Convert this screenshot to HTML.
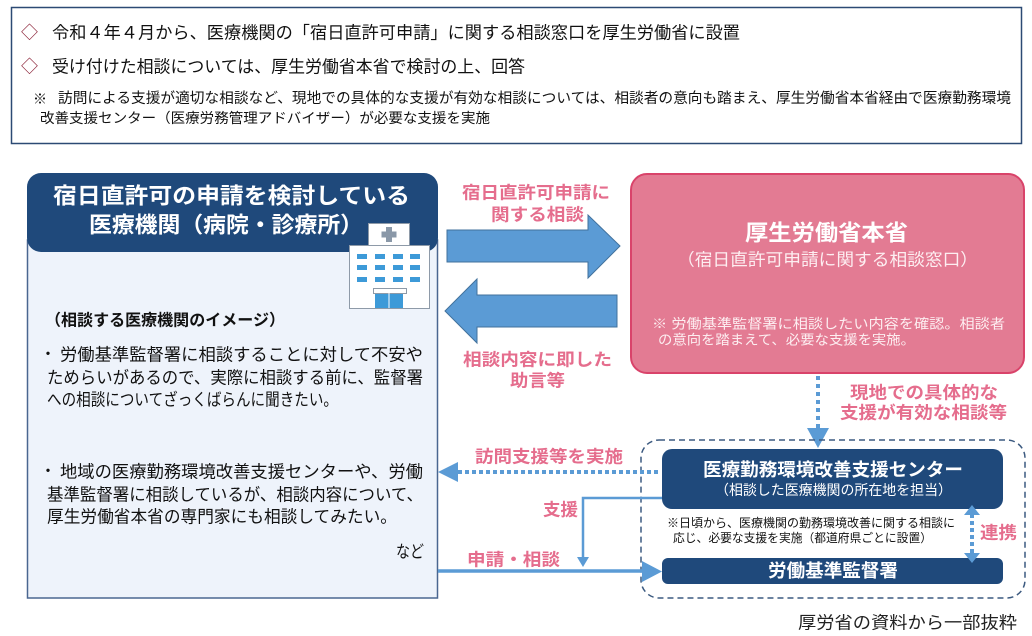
<!DOCTYPE html>
<html><head><meta charset="utf-8">
<style>
html,body{margin:0;padding:0;background:#fff;}
svg{display:block;}
text{font-family:"Liberation Sans","Noto Sans CJK JP",sans-serif;}
.b{font-weight:bold;}
</style></head>
<body>
<svg width="1032" height="636" viewBox="0 0 1032 636" xmlns="http://www.w3.org/2000/svg">
<!-- top box -->
<rect x="11.5" y="7.5" width="1010" height="136" fill="#fff" stroke="#2c4a74" stroke-width="1.5"/>
<g fill="#111" dominant-baseline="central">
<text x="21" y="33" font-size="17" fill="#8a2036">◇</text>
<text x="52" y="33" font-size="17" textLength="688" lengthAdjust="spacingAndGlyphs">令和４年４月から、医療機関の「宿日直許可申請」に関する相談窓口を厚生労働省に設置</text>
<text x="21" y="67" font-size="17" fill="#8a2036">◇</text>
<text x="52" y="67" font-size="17" textLength="473" lengthAdjust="spacingAndGlyphs">受け付けた相談については、厚生労働省本省で検討の上、回答</text>
<text x="33" y="99" font-size="14">※</text>
<text x="58" y="99" font-size="14.5" textLength="953" lengthAdjust="spacingAndGlyphs">訪問による支援が適切な相談など、現地での具体的な支援が有効な相談については、相談者の意向も踏まえ、厚生労働省本省経由で医療勤務環境</text>
<text x="40" y="118" font-size="14" textLength="450" lengthAdjust="spacingAndGlyphs">改善支援センター（医療労務管理アドバイザー）が必要な支援を実施</text>
</g>

<!-- left box -->
<rect x="27.5" y="240" width="410" height="358" fill="#eef3fb" stroke="#4a6690" stroke-width="1.5"/>
<rect x="27" y="173" width="411" height="79" rx="14" fill="#1f497b"/>
<g fill="#fff" dominant-baseline="central" class="b">
<text x="53" y="196" font-size="22" font-weight="bold" textLength="357" lengthAdjust="spacingAndGlyphs">宿日直許可の申請を検討している</text>
<text x="89" y="225" font-size="22" font-weight="bold" textLength="274" lengthAdjust="spacingAndGlyphs">医療機関（病院・診療所）</text>
</g>
<!-- hospital icon -->
<g>
<rect x="368.5" y="223.5" width="41" height="22" fill="#fff" stroke="#8e9aa8" stroke-width="1"/>
<rect x="386" y="227" width="6" height="15" fill="#8a98a8"/>
<rect x="381.5" y="231.5" width="15" height="6" fill="#8a98a8"/>
<rect x="349.5" y="245.5" width="80" height="63" fill="#fff" stroke="#8e9aa8" stroke-width="1"/>
<g fill="#3d9ad8">
<rect x="357" y="254" width="10" height="5"/><rect x="375" y="254" width="10" height="5"/><rect x="393" y="254" width="10" height="5"/><rect x="410" y="254" width="10" height="5"/>
<rect x="357" y="265" width="10" height="5"/><rect x="375" y="265" width="10" height="5"/><rect x="393" y="265" width="10" height="5"/><rect x="410" y="265" width="10" height="5"/>
<rect x="357" y="277" width="10" height="5"/><rect x="375" y="277" width="10" height="5"/><rect x="393" y="277" width="10" height="5"/><rect x="410" y="277" width="10" height="5"/>
<rect x="375" y="293" width="28" height="15"/>
</g>
<rect x="373.5" y="288.5" width="33" height="5" fill="#fff" stroke="#8e9aa8" stroke-width="1"/>
<line x1="389" y1="293" x2="389" y2="308" stroke="#fff" stroke-width="1"/>
</g>
<g fill="#111" dominant-baseline="central">
<text x="45" y="321" font-size="16" font-weight="bold" textLength="240" lengthAdjust="spacingAndGlyphs">（相談する医療機関のイメージ）</text>
<text x="40" y="355" font-size="16">・</text>
<text x="60" y="355" font-size="17" textLength="363" lengthAdjust="spacingAndGlyphs">労働基準監督署に相談することに対して不安や</text>
<text x="47" y="378" font-size="17" textLength="376" lengthAdjust="spacingAndGlyphs">ためらいがあるので、実際に相談する前に、監督署</text>
<text x="47" y="400" font-size="17" textLength="291" lengthAdjust="spacingAndGlyphs">への相談についてざっくばらんに聞きたい。</text>
<text x="40" y="472" font-size="16">・</text>
<text x="60" y="472" font-size="17" textLength="363" lengthAdjust="spacingAndGlyphs">地域の医療勤務環境改善支援センターや、労働</text>
<text x="47" y="495" font-size="17" textLength="376" lengthAdjust="spacingAndGlyphs">基準監督署に相談しているが、相談内容について、</text>
<text x="47" y="517" font-size="17" textLength="350" lengthAdjust="spacingAndGlyphs">厚生労働省本省の専門家にも相談してみたい。</text>
<text x="396" y="552" font-size="17" textLength="28" lengthAdjust="spacingAndGlyphs">など</text>
</g>

<!-- big arrows -->
<polygon points="447,230 588,230 588,215 620,246 588,278 588,262 447,262" fill="#5b9bd5" stroke="#41719c" stroke-width="1"/>
<polygon points="617,295 477,295 477,279 445,311 477,343 477,327 617,327" fill="#5b9bd5" stroke="#41719c" stroke-width="1"/>
<g fill="#e56d8d" dominant-baseline="central" font-weight="bold">
<text x="462" y="193" font-size="17" textLength="148" lengthAdjust="spacingAndGlyphs">宿日直許可申請に</text>
<text x="491" y="215" font-size="17" textLength="93" lengthAdjust="spacingAndGlyphs">関する相談</text>
<text x="463" y="360" font-size="17" textLength="149" lengthAdjust="spacingAndGlyphs">相談内容に即した</text>
<text x="510" y="381" font-size="17" textLength="55" lengthAdjust="spacingAndGlyphs">助言等</text>
</g>

<!-- pink box -->
<rect x="631" y="174" width="393" height="199" rx="16" fill="#e37b93" stroke="#d9436a" stroke-width="2"/>
<g fill="#fff" dominant-baseline="central">
<text x="745" y="233" font-size="22" font-weight="bold" textLength="163" lengthAdjust="spacingAndGlyphs">厚生労働省本省</text>
<text x="677" y="260" font-size="17" fill="#fdeef1" textLength="301" lengthAdjust="spacingAndGlyphs">（宿日直許可申請に関する相談窓口）</text>
<text x="652" y="324" font-size="13.5" fill="#fdeef1" textLength="353" lengthAdjust="spacingAndGlyphs">※ 労働基準監督署に相談したい内容を確認。相談者</text>
<text x="658" y="340" font-size="13.5" fill="#fdeef1" textLength="257" lengthAdjust="spacingAndGlyphs">の意向を踏まえて、必要な支援を実施。</text>
</g>

<!-- dotted down arrow -->
<line x1="818" y1="376" x2="818" y2="430" stroke="#5b9bd5" stroke-width="4" stroke-dasharray="4 4"/>
<polygon points="807,428 829,428 818,448" fill="#5b9bd5"/>
<g fill="#e56d8d" dominant-baseline="central" font-weight="bold">
<text x="850" y="393" font-size="17" textLength="148" lengthAdjust="spacingAndGlyphs">現地での具体的な</text>
<text x="840" y="413" font-size="17" textLength="167" lengthAdjust="spacingAndGlyphs">支援が有効な相談等</text>
</g>

<!-- dashed container -->
<rect x="641" y="440" width="384" height="158" rx="18" fill="none" stroke="#3c5a80" stroke-width="1.5" stroke-dasharray="6 4"/>

<!-- center box -->
<rect x="662" y="449" width="341" height="60" rx="10" fill="#1f497b"/>
<g fill="#fff" dominant-baseline="central">
<text x="703" y="470" font-size="18" font-weight="bold" textLength="260" lengthAdjust="spacingAndGlyphs">医療勤務環境改善支援センター</text>
<text x="715" y="490" font-size="14" textLength="237" lengthAdjust="spacingAndGlyphs">（相談した医療機関の所在地を担当）</text>
</g>
<g fill="#111" dominant-baseline="central">
<text x="667" y="523" font-size="12" textLength="288" lengthAdjust="spacingAndGlyphs">※日頃から、医療機関の勤務環境改善に関する相談に</text>
<text x="673" y="538" font-size="12" textLength="259" lengthAdjust="spacingAndGlyphs">応じ、必要な支援を実施（都道府県ごとに設置）</text>
</g>
<rect x="662" y="558" width="341" height="26" rx="6" fill="#1f497b"/>
<text x="768" y="571" font-size="18" font-weight="bold" fill="#fff" dominant-baseline="central" textLength="130" lengthAdjust="spacingAndGlyphs">労働基準監督署</text>

<!-- 連携 -->
<line x1="972" y1="514" x2="972" y2="555" stroke="#5b9bd5" stroke-width="4" stroke-dasharray="4 3"/>
<polygon points="964,515 980,515 972,505" fill="#5b9bd5"/>
<polygon points="964,553 980,553 972,563" fill="#5b9bd5"/>
<text x="980" y="533" font-size="17" font-weight="bold" fill="#e56d8d" dominant-baseline="central" textLength="37" lengthAdjust="spacingAndGlyphs">連携</text>

<!-- 訪問支援 dotted left -->
<line x1="458" y1="472" x2="660" y2="472" stroke="#5b9bd5" stroke-width="4" stroke-dasharray="4 3"/>
<polygon points="458,462 458,482 438,472" fill="#5b9bd5"/>
<text x="475" y="457" font-size="17" font-weight="bold" fill="#e56d8d" dominant-baseline="central" textLength="148" lengthAdjust="spacingAndGlyphs">訪問支援等を実施</text>

<!-- 支援 -->
<polyline points="662,498 583,498 583,560" fill="none" stroke="#5b9bd5" stroke-width="2.5"/>
<polygon points="577,557 589,557 583,567" fill="#5b9bd5"/>
<text x="543" y="510" font-size="17" font-weight="bold" fill="#e56d8d" dominant-baseline="central" textLength="35" lengthAdjust="spacingAndGlyphs">支援</text>

<!-- 申請・相談 -->
<line x1="438" y1="571" x2="644" y2="571" stroke="#5b9bd5" stroke-width="3.5"/>
<polygon points="642,561 642,582 662,571.5" fill="#5b9bd5"/>
<text x="467" y="560" font-size="17" font-weight="bold" fill="#e56d8d" dominant-baseline="central" textLength="93" lengthAdjust="spacingAndGlyphs">申請・相談</text>

<!-- footer -->
<text x="798" y="623" font-size="17" fill="#222" dominant-baseline="central" textLength="219" lengthAdjust="spacingAndGlyphs">厚労省の資料から一部抜粋</text>
</svg>
</body></html>
